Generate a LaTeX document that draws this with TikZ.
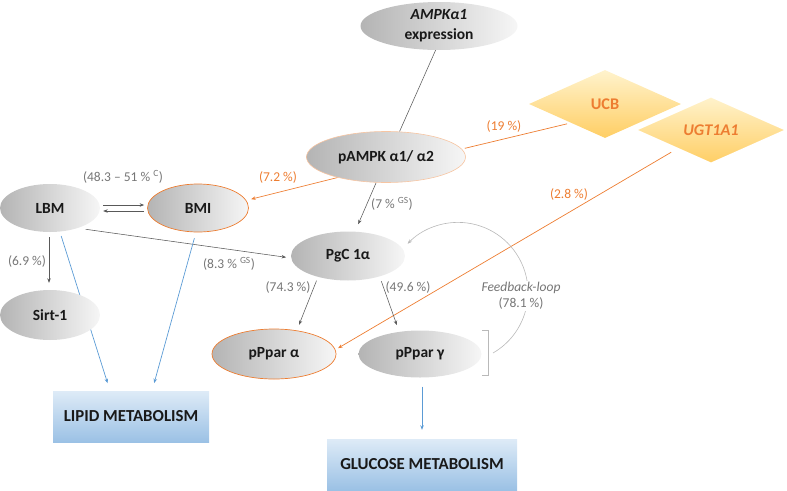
\documentclass[tikz,border=0pt]{standalone}
\usepackage{fontspec}
\setmainfont{Carlito}
\usetikzlibrary{shapes.geometric,arrows.meta,backgrounds,calc}
\definecolor{ogr}{RGB}{237,125,49}
\definecolor{lbl}{RGB}{118,118,118}
\definecolor{ldark}{RGB}{180,180,180}
\definecolor{llight}{RGB}{246,246,246}
\definecolor{dtop}{RGB}{255,243,205}
\definecolor{dbot}{RGB}{255,206,100}
\definecolor{btop}{RGB}{222,235,247}
\definecolor{bbot}{RGB}{155,193,229}
\definecolor{blu}{RGB}{91,155,213}
\definecolor{arcg}{RGB}{185,185,185}
\definecolor{edg}{RGB}{89,89,89}
\begin{document}
\begin{tikzpicture}[x=1pt,y=-1pt,
  ell/.style={ellipse, left color=ldark, right color=llight, inner sep=0pt,
    font=\fontsize{15.5}{20}\selectfont\bfseries, text=black!90},
  oell/.style={ell, draw=ogr, line width=0.7pt},
  dia/.style={diamond, top color=dtop, bottom color=dbot, inner sep=0pt,
    minimum width=152pt, minimum height=68pt, text=ogr,
    font=\fontsize{16.3}{19}\selectfont\bfseries},
  mbox/.style={rectangle, top color=btop, bottom color=bbot, inner sep=0pt,
    font=\fontsize{16.8}{19}\selectfont\bfseries, text=black!90},
  lab/.style={text=lbl, inner sep=1pt, font=\fontsize{13.5}{16}\selectfont},
  olab/.style={lab, text=ogr},
  tip/.style={-{Stealth[length=4.5pt,width=3.5pt]}},
  gline/.style={draw=edg, line width=0.55pt, tip},
  plain/.style={draw=edg, line width=0.55pt},
  oline/.style={draw=ogr, line width=0.7pt},
  bline/.style={draw=blu, line width=0.7pt, tip},
  fbarc/.style={draw=arcg, line width=0.6pt, tip},
  brk/.style={draw=arcg, line width=0.7pt}
]
\useasboundingbox (0,0) rectangle (787,490);

% nodes
\node[ell, minimum width=157pt, minimum height=48pt, align=center] (ampk) at (439,26) {\textit{AMPKα1}\\expression};
\node[ell, draw=ogr!45, line width=0.6pt, minimum width=159pt, minimum height=51pt] (pampk) at (386,157) {pAMPK α1/ α2};
\node[dia] (ucb) at (605,104) {UCB};
\node[dia, draw=white, line width=2pt, font=\fontsize{16.3}{19}\selectfont\bfseries\itshape] (ugt) at (711,130) {UGT1A1};
\node[ell, minimum width=100pt, minimum height=48pt] (lbm) at (50,208) {LBM};
\node[oell, minimum width=101pt, minimum height=48pt] (bmi) at (198,208) {BMI};
\node[ell, minimum width=114pt, minimum height=49pt] (pgc) at (348,256) {PgC 1α};
\node[ell, minimum width=100pt, minimum height=50pt] (sirt) at (50,315) {Sirt-1};
\node[oell, minimum width=124pt, minimum height=50pt] (ppa) at (274,354) {pPpar α};
\node[ell, minimum width=123pt, minimum height=47pt] (ppg) at (420,354) {pPpar γ};
\node[mbox, minimum width=156pt, minimum height=51pt] (lipid) at (131,416.5) {LIPID METABOLISM};
\node[mbox, minimum width=190pt, minimum height=51pt] (glucose) at (422,464.5) {GLUCOSE METABOLISM};

% labels
\node[lab] (l48) at (123,177) {(48.3 – 51 \% \textsuperscript{C})};
\node[lab] (l69) at (27,261) {(6.9 \%)};
\node[lab] (l83) at (229,264) {(8.3 \% \textsuperscript{GS})};
\node[lab] (l7) at (392,204) {(7 \% \textsuperscript{GS})};
\node[olab] (l72) at (278,177) {(7.2 \%)};
\node[olab] (l19) at (504,126) {(19 \%)};
\node[olab] (l28) at (569,194) {(2.8 \%)};
\node[lab] (l743) at (288,287) {(74.3 \%)};
\node[lab] (l496) at (408,287) {(49.6 \%)};
\node[lab, fill=white, align=center] (fbl) at (521,296) {\textit{Feedback-loop}\\(78.1 \%)};

\coordinate (fbs) at (493,353);

\begin{scope}[on background layer]
\draw[plain] (ampk.262) -- (pampk.62);
\draw[oline, tip, shorten >=5pt] (pampk.203) -- (bmi.9);
\draw[oline, shorten <=4pt, shorten >=3pt] (ucb.209) -- (pampk.6);
\draw[oline, tip, shorten <=6pt, shorten >=3pt] (ugt.209) -- (ppa.4);
\draw[gline, shorten >=8pt] (pampk.249) -- (pgc.74);
\draw[gline] ([shift={(3pt,3pt)}]lbm.east) -- ([shift={(-3pt,3pt)}]bmi.west);
\draw[gline] ([shift={(-3pt,-3pt)}]bmi.west) -- ([shift={(3pt,-3pt)}]lbm.east);
\draw[gline, shorten <=8pt, shorten >=5pt] (lbm.324) -- (pgc.182);
\draw[gline, shorten <=5pt, shorten >=7pt] ([xshift=-1pt]lbm.south) -- ([xshift=-1pt]sirt.north);
\draw[bline, shorten <=4pt, shorten >=8pt] ([xshift=10pt]lbm.south) -- ([xshift=-21pt]lipid.north);
\draw[bline, shorten <=6pt, shorten >=8pt] ([xshift=-2pt]bmi.south) -- ([xshift=21pt]lipid.north);
\draw[gline, shorten <=4pt, shorten >=6pt] (pgc.215) -- (ppa.46);
\draw[gline, shorten <=5pt, shorten >=7pt] (pgc.327) -- (ppg.133);
\draw[bline, shorten <=9pt, shorten >=9pt] ([xshift=2pt]ppg.south) -- ([xshift=2pt]ppg.south |- glucose.north);
\draw[fbarc] (fbs) arc[start angle=-60, end angle=136, radius=70pt];
\end{scope}

\draw[brk] (482,330) -- (488,330) -- (488,375) -- (482,375);
\end{tikzpicture}
\end{document}
